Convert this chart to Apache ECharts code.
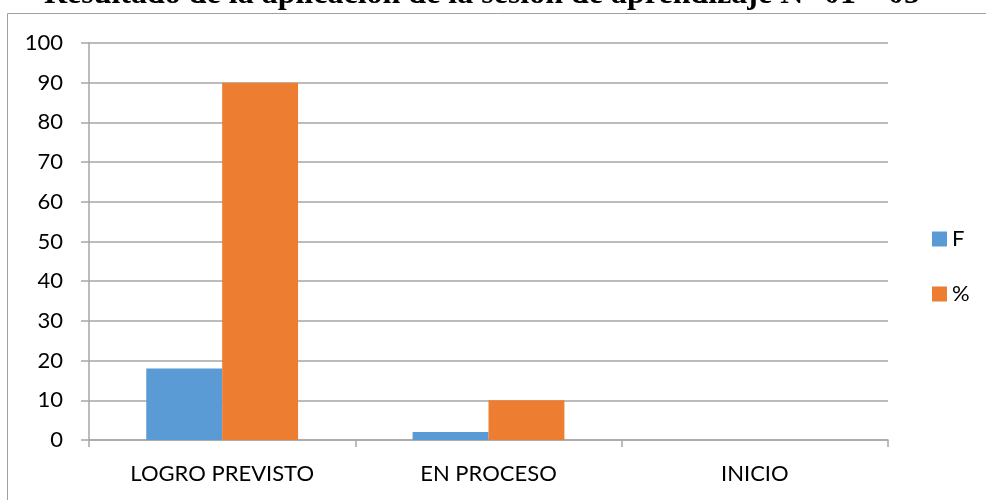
<!DOCTYPE html>
<html><head><meta charset="utf-8">
<script src="https://cdn.jsdelivr.net/npm/echarts@6/dist/echarts.min.js"></script>
<style>html,body{margin:0;padding:0;background:#fff}#c{width:986px;height:500px}</style>
</head><body><div id="c"></div>
<script>
const titleText = 'Resultado de la aplicación de la sesión de aprendizaje N° 01 – 05';
const categories = ['LOGRO PREVISTO', 'EN PROCESO', 'INICIO'];
const seriesNames = ['F', '%'];
const valuesF = [18, 2, 0];
const valuesPct = [90, 10, 0];
const yTicks = {min: 0, max: 100, interval: 10};

const chart = echarts.init(document.getElementById('c'), null, {renderer: 'canvas'});
const axisGrey = '#a6a6a6';
const font = 'Lato';
chart.setOption({
  animation: false,
  graphic: [
    {type: 'rect', shape: {x: 7.5, y: 13.5, width: 1000, height: 600}, style: {fill: 'none', stroke: '#a0a0a0', lineWidth: 1}, z: -1},
    {type: 'text', x: 482, y: 11, style: {text: titleText, fontFamily: 'Liberation Serif', fontWeight: 'bold', fontSize: 32, fill: '#000', align: 'center', verticalAlign: 'bottom'}}
  ],
  grid: {left: 89, right: 98, top: 43, bottom: 60, containLabel: false},
  legend: {
    orient: 'vertical', left: 927, top: 223, itemWidth: 15, itemHeight: 15, itemGap: 33,
    icon: 'rect', textStyle: {fontFamily: font, fontSize: 22, color: '#000'},
    data: seriesNames
  },
  xAxis: {
    type: 'category', data: categories,
    axisLine: {lineStyle: {color: axisGrey, width: 1.5}},
    axisTick: {show: true, length: 7, lineStyle: {color: axisGrey, width: 1.5}},
    axisLabel: {fontFamily: font, fontSize: 22, color: '#000', margin: 23}
  },
  yAxis: {
    type: 'value', min: yTicks.min, max: yTicks.max, interval: yTicks.interval,
    axisLine: {show: true, lineStyle: {color: axisGrey, width: 1.5}},
    axisTick: {show: true, length: 8, lineStyle: {color: axisGrey, width: 1.5}},
    splitLine: {lineStyle: {color: axisGrey, width: 1.5}},
    axisLabel: {fontFamily: font, fontSize: 22, color: '#000', margin: 26}
  },
  series: [
    {name: seriesNames[0], type: 'bar', data: valuesF, itemStyle: {color: '#5B9BD5'}, barGap: '0%', barCategoryGap: '43%'},
    {name: seriesNames[1], type: 'bar', data: valuesPct, itemStyle: {color: '#ED7D31'}, barGap: '0%', barCategoryGap: '43%'}
  ]
});
</script></body></html>
